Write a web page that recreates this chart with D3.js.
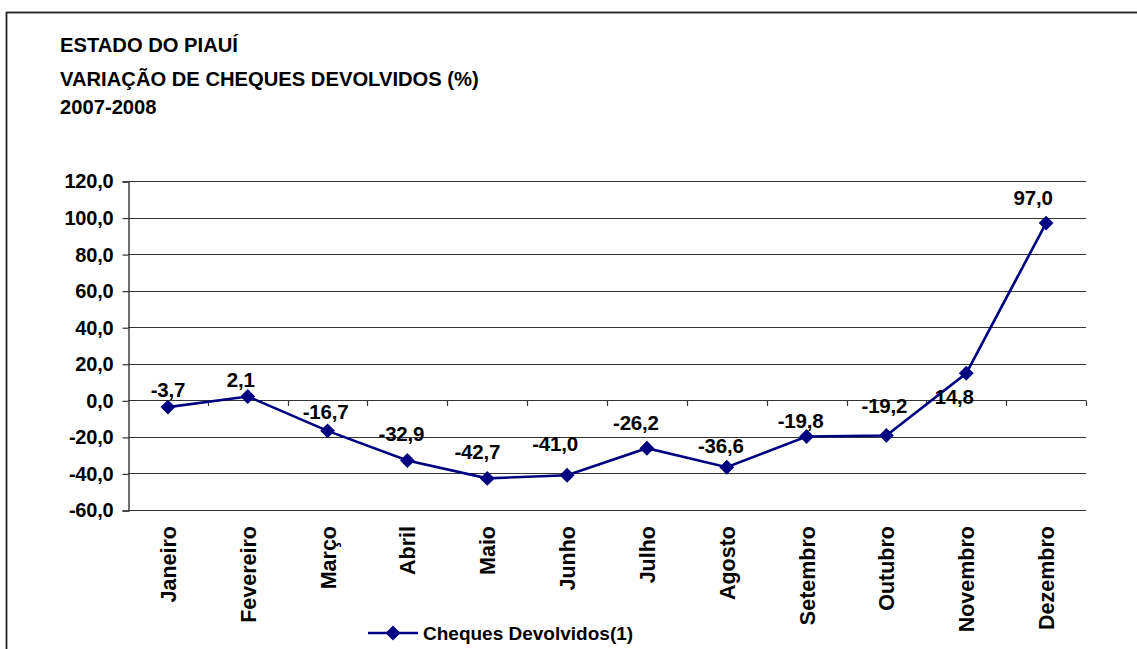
<!DOCTYPE html>
<html>
<head>
<meta charset="utf-8">
<script src="https://cdn.jsdelivr.net/npm/d3@7"></script>
<style>
  body { margin: 0; background: #fff; }
  svg text { font-family: "Liberation Sans", Arial, sans-serif; font-weight: bold; fill: #000; }
</style>
</head>
<body>
<svg width="1137" height="649"></svg>
<script>
var titleLines = ["ESTADO DO PIAUÍ", "VARIAÇÃO DE CHEQUES DEVOLVIDOS (%)", "2007-2008"];
var months = ["Janeiro", "Fevereiro", "Março", "Abril", "Maio", "Junho", "Julho",
              "Agosto", "Setembro", "Outubro", "Novembro", "Dezembro"];
var values = [-3.7, 2.1, -16.7, -32.9, -42.7, -41.0, -26.2, -36.6, -19.8, -19.2, 14.8, 97.0];
var yTicks = [-60, -40, -20, 0, 20, 40, 60, 80, 100, 120];
var seriesName = "Cheques Devolvidos(1)";

var svg = d3.select("svg");
var navy = "#000080";
// Excel style: comma decimal, plain hyphen minus
var fmt = function(v) { return d3.format(".1f")(v).replace("\u2212", "-").replace(".", ","); };

// label nudges as placed in the original sheet (px, relative to the marker)
var labelDx = [0, -7, -2, -6, -10, -12, -11, -6, -6, -2, -12, -13];
var labelDy = [-10, -9, -12, -19, -19, -24, -18, -14, -9, -22, 31, -18];

// outer frame (runs off right/bottom like the original)
svg.append("rect")
    .attr("x", 6.5).attr("y", 12.5)
    .attr("width", 1200).attr("height", 700)
    .attr("fill", "none").attr("stroke", "#222").attr("stroke-width", 1.8);

// title
svg.append("g").selectAll("text")
    .data(titleLines)
  .enter().append("text")
    .attr("x", 60)
    .attr("y", function(d, i) { return [52, 86, 114][i]; })
    .style("font-size", "20.2px")
    .text(function(d) { return d; });

var margin = {left: 128, right: 1086, top: 181, bottom: 510};

var x = d3.scaleBand().domain(months).range([margin.left, margin.right]).padding(0);
var y = d3.scaleLinear().domain([-60, 120]).range([margin.bottom, margin.top]);

// gridlines
svg.append("g").selectAll("line")
    .data(yTicks)
  .enter().append("line")
    .attr("x1", margin.left).attr("x2", margin.right)
    .attr("y1", function(d) { return Math.round(y(d)) + 0.5; })
    .attr("y2", function(d) { return Math.round(y(d)) + 0.5; })
    .attr("stroke", "#333").attr("stroke-width", 1.2);

// y axis
var yAxis = svg.append("g")
    .attr("transform", "translate(" + (margin.left + 0.5) + ",0.5)")
    .call(d3.axisLeft(y).tickValues(yTicks).tickSize(6).tickPadding(9).tickFormat(fmt));
yAxis.select(".domain").attr("stroke", "#333").attr("stroke-width", 1.4);
yAxis.selectAll(".tick line").attr("stroke", "#333").attr("stroke-width", 1.2);
yAxis.selectAll(".tick text")
    .style("font-size", "20px").style("letter-spacing", "-0.2px")
    .attr("font-family", null).attr("fill", "#000");

// category axis crossing at zero, ticks pointing down
var boundaries = months.map(function(m) { return x(m) + x.bandwidth(); });
svg.append("g").selectAll("line")
    .data(boundaries)
  .enter().append("line")
    .attr("x1", function(d) { return Math.round(d) + 0.5; })
    .attr("x2", function(d) { return Math.round(d) + 0.5; })
    .attr("y1", Math.round(y(0)) + 0.5).attr("y2", Math.round(y(0)) + 6)
    .attr("stroke", "#333").attr("stroke-width", 1.2);

// month labels, rotated
svg.append("g").selectAll("text")
    .data(months)
  .enter().append("text")
    .attr("transform", function(d) {
      return "translate(" + (x(d) + x.bandwidth() / 2 + 8) + "," + (margin.bottom + 16) + ") rotate(-90)";
    })
    .attr("text-anchor", "end")
    .style("font-size", "21.5px")
    .text(function(d) { return d; });

// series line
var pts = months.map(function(m, i) { return {m: m, v: values[i], i: i}; });
var line = d3.line()
    .x(function(d) { return x(d.m) + x.bandwidth() / 2; })
    .y(function(d) { return y(d.v); });

svg.append("path")
    .datum(pts)
    .attr("d", line)
    .attr("fill", "none")
    .attr("stroke", navy)
    .attr("stroke-width", 2.6);

var diamond = d3.symbol().type(d3.symbolDiamond2).size(140);
svg.append("g").selectAll("path")
    .data(pts)
  .enter().append("path")
    .attr("d", diamond)
    .attr("transform", function(d) {
      return "translate(" + (x(d.m) + x.bandwidth() / 2) + "," + y(d.v) + ")";
    })
    .attr("fill", navy);

// data labels
svg.append("g").selectAll("text")
    .data(pts)
  .enter().append("text")
    .attr("x", function(d) { return x(d.m) + x.bandwidth() / 2 + labelDx[d.i]; })
    .attr("y", function(d) { return y(d.v) + labelDy[d.i]; })
    .attr("text-anchor", "middle")
    .style("font-size", "20.5px")
    .style("letter-spacing", "-0.2px")
    .text(function(d) { return fmt(d.v); });

// legend
var lg = svg.append("g").attr("transform", "translate(368,633)");
lg.append("line").attr("x1", 0).attr("x2", 50).attr("y1", 0).attr("y2", 0)
    .attr("stroke", navy).attr("stroke-width", 2.6);
lg.append("path").attr("d", diamond).attr("transform", "translate(25,0)").attr("fill", navy);
lg.append("text").attr("x", 55).attr("y", 7)
    .style("font-size", "19px")
    .text(seriesName);
</script>
</body>
</html>
